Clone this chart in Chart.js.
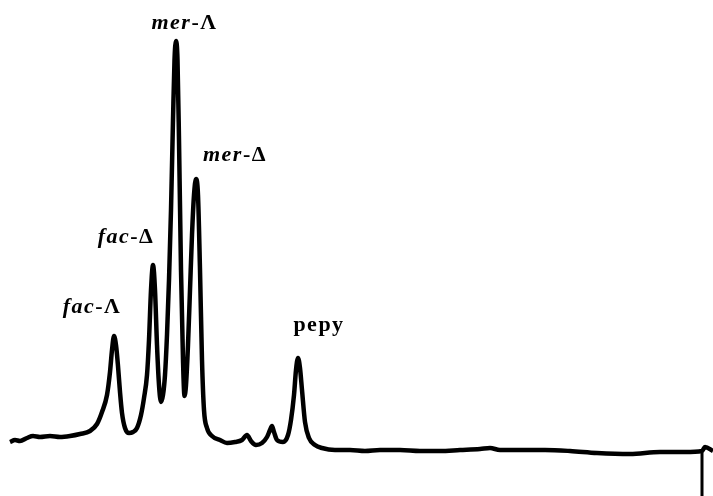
<!DOCTYPE html>
<html>
<head>
<meta charset="utf-8">
<script src="https://cdn.jsdelivr.net/npm/chart.js@4"></script>
<style>
  html, body { margin: 0; padding: 0; background: #fff; }
  #box { width: 713px; height: 496px; }
</style>
</head>
<body>
<div id="box"><canvas id="chrom"></canvas></div>
<script>
// retention time (min) and detector signal (arbitrary units)
var times = [0, 0.2, 0.4, 0.68, 0.92, 1.2, 1.6, 2.0, 2.4, 2.8, 3.2, 3.48, 3.68, 3.88, 4.0, 4.08, 4.16,
  4.24, 4.32, 4.4, 4.48, 4.6, 4.76, 4.92, 5.08, 5.24, 5.36, 5.48, 5.56, 5.64, 5.72, 5.8, 5.88, 5.96,
  6.04, 6.12, 6.2, 6.28, 6.36, 6.44, 6.52, 6.58, 6.64, 6.7, 6.76, 6.84, 6.92, 6.98, 7.04, 7.12, 7.2,
  7.28, 7.36, 7.44, 7.52, 7.6, 7.68, 7.76, 7.88, 8.08, 8.4, 8.68, 9.0, 9.28, 9.48, 9.64, 9.84, 10.08,
  10.28, 10.4, 10.48, 10.56, 10.68, 10.92, 11.12, 11.24, 11.36, 11.44, 11.52, 11.6, 11.68, 11.8, 11.96,
  12.2, 12.48, 13.0, 13.6, 14.2, 14.8, 15.6, 16.4, 17.2, 18.0, 18.8, 19.2, 19.6, 20.4, 21.4, 22.4,
  23.48, 24.8, 26.0, 27.0, 27.68, 27.8, 28.12];
var signal = [0.75, 1.25, 1.0, 1.75, 2.25, 2.0, 2.25, 2.0, 2.25, 2.75, 3.5, 5.25, 8.25, 12.5, 18.25, 23.75, 27.25,
  25, 19.75, 13.25, 8, 4.25, 3, 3.25, 4.25, 7.5, 11.75, 17.5, 26.25, 38.75, 45, 38.75, 25, 15,
  10.75, 12.5, 17.5, 27.5, 41.25, 58.75, 81.25, 96.25, 101, 96.25, 76.25, 43.75, 21.25, 12.25, 15, 25, 38.75,
  52.5, 62.5, 66.5, 62.5, 43.75, 21.25, 8.75, 4.25, 2.25, 1.25, 0.5, 0.75, 1.25, 2.5, 1.0, 0, 0.5,
  2.0, 3.75, 4.75, 3.25, 1.25, 0.75, 2.5, 6.25, 12.5, 18.75, 21.75, 19.25, 13.75, 5.75, 1.75,
  0, -0.75, -1.25, -1.25, -1.5, -1.25, -1.25, -1.5, -1.5, -1.25, -1.0, -0.75, -1.25, -1.25, -1.25, -1.5,
  -2, -2.25, -1.75, -1.75, -1.5, -0.5, -1.5];

// end-of-run marker
var markerTime = 27.68;
var markerSignal = [-1.5, -12.75];

// peak labels
var labelPrefix = ['fac', 'fac', 'mer', 'mer', ''];
var labelSuffix = ['-\u039B', '-\u0394', '-\u039B', '-\u0394', 'pepy'];
var labelTimes = [3.28, 4.64, 6.98, 9.0, 12.36];
var labelHeights = [33, 50.5, 104, 71, 28.5];

var trace = [];
for (var i = 0; i < times.length; i++) {
  trace.push({ x: times[i], y: signal[i] });
}
var marker = [];
for (var j = 0; j < markerSignal.length; j++) {
  marker.push({ x: markerTime, y: markerSignal[j] });
}

var italicFont = 'italic bold 22px "Liberation Serif", serif';
var plainFont = 'bold 22px "Liberation Serif", serif';

var peakLabels = {
  id: 'peakLabels',
  afterDatasetsDraw: function (chart) {
    var ctx = chart.ctx;
    var xs = chart.scales.x;
    var ys = chart.scales.y;
    ctx.save();
    ctx.fillStyle = '#000';
    ctx.textBaseline = 'alphabetic';
    ctx.textAlign = 'left';
    ctx.letterSpacing = '1.5px';
    for (var k = 0; k < labelTimes.length; k++) {
      ctx.font = italicFont;
      var w1 = ctx.measureText(labelPrefix[k]).width;
      ctx.font = plainFont;
      var w2 = ctx.measureText(labelSuffix[k]).width;
      var cx = xs.getPixelForValue(labelTimes[k]);
      var cy = ys.getPixelForValue(labelHeights[k]);
      var left = cx - (w1 + w2) / 2;
      ctx.font = italicFont;
      ctx.fillText(labelPrefix[k], left, cy);
      ctx.font = plainFont;
      ctx.fillText(labelSuffix[k], left + w1, cy);
    }
    ctx.restore();
  }
};

var chart = new Chart(document.getElementById('chrom').getContext('2d'), {
  type: 'line',
  data: {
    datasets: [
      {
        data: trace,
        borderColor: '#000',
        borderWidth: 4.5,
        pointRadius: 0,
        cubicInterpolationMode: 'monotone',
        borderJoinStyle: 'round',
        clip: false
      },
      {
        data: marker,
        borderColor: '#000',
        borderWidth: 3,
        pointRadius: 0,
        clip: false
      }
    ]
  },
  options: {
    responsive: true,
    maintainAspectRatio: false,
    animation: false,
    layout: { padding: 0 },
    plugins: {
      legend: { display: false },
      tooltip: { enabled: false }
    },
    scales: {
      x: { type: 'linear', min: -0.4, max: 28.12, display: false },
      y: { type: 'linear', min: -12.75, max: 111.25, display: false }
    }
  },
  plugins: [peakLabels]
});
</script>
</body>
</html>
